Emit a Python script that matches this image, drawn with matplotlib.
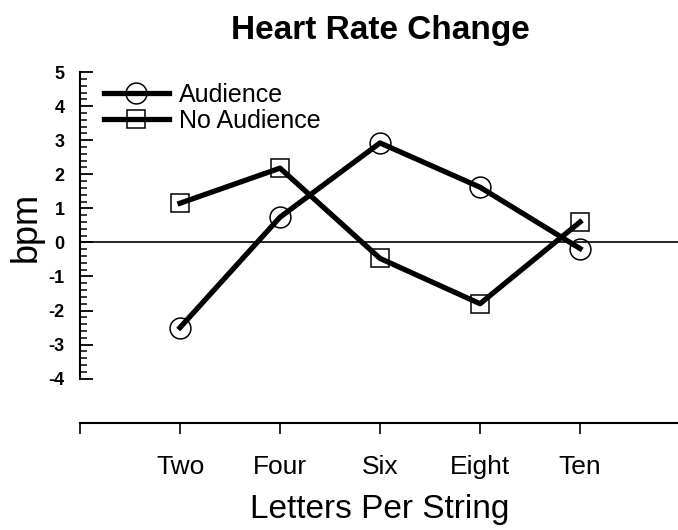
import numpy as np
import matplotlib.pyplot as plt
from matplotlib.ticker import FixedLocator

plt.rcParams['font.family'] = ['Liberation Sans', 'DejaVu Sans']
plt.rcParams['axes.unicode_minus'] = False

categorias = ['Two', 'Four', 'Six', 'Eight', 'Ten']
audiencia = [-2.5, 0.74, 2.92, 1.62, -0.18]
sin_audiencia = [1.15, 2.18, -0.47, -1.8, 0.6]
posiciones = [1, 2, 3, 4, 5]

fig = plt.figure(figsize=(6.78, 5.3), dpi=100)
ax = fig.add_axes([0.118, 0.202, 0.885, 0.662])

# Linea de cero
ax.axhline(0, color='black', linewidth=1.2, zorder=1)

ax.plot(posiciones, audiencia, color='black', linewidth=3.8, marker='o',
        markersize=15, markerfacecolor='none', markeredgewidth=1.1,
        label='Audience', zorder=3)
ax.plot(posiciones, sin_audiencia, color='black', linewidth=3.8, marker='s',
        markersize=13, markerfacecolor='none', markeredgewidth=1.1,
        label='No Audience', zorder=3)

ax.set_xlim(0, 6)
ax.set_ylim(-5.3, 5)

ax.spines['top'].set_visible(False)
ax.spines['right'].set_visible(False)
ax.spines['left'].set_bounds(-4, 5)
ax.spines['left'].set_linewidth(1.5)
ax.spines['bottom'].set_linewidth(1.5)

ax.set_yticks(range(-4, 6))
ax.yaxis.set_minor_locator(FixedLocator(np.arange(-4, 5.01, 0.2)))
ax.tick_params(axis='y', which='major', direction='in', length=9, width=1.3,
               labelsize=13, pad=11)
ax.tick_params(axis='y', which='minor', direction='in', length=5, width=1.1)
for t in ax.get_yticklabels():
    t.set_fontweight('bold')

ax.set_xticks([0] + posiciones)
ax.set_xticklabels([''] + categorias)
ax.tick_params(axis='x', direction='out', length=8, width=1.2,
               labelsize=19, pad=15)

ax.set_ylabel('bpm', fontsize=26)
ax.yaxis.set_label_coords(-0.06, 0.56)
ax.set_xlabel('Letters Per String', fontsize=24, labelpad=11)
ax.set_title('Heart Rate Change', fontsize=24, fontweight='bold', pad=24)

ax.legend(loc='upper left', bbox_to_anchor=(0.01, 1.02), frameon=False,
          fontsize=18, handlelength=2.6, handletextpad=0.4, labelspacing=0.1,
          borderaxespad=0.3)

plt.savefig('out.png', dpi=100)
